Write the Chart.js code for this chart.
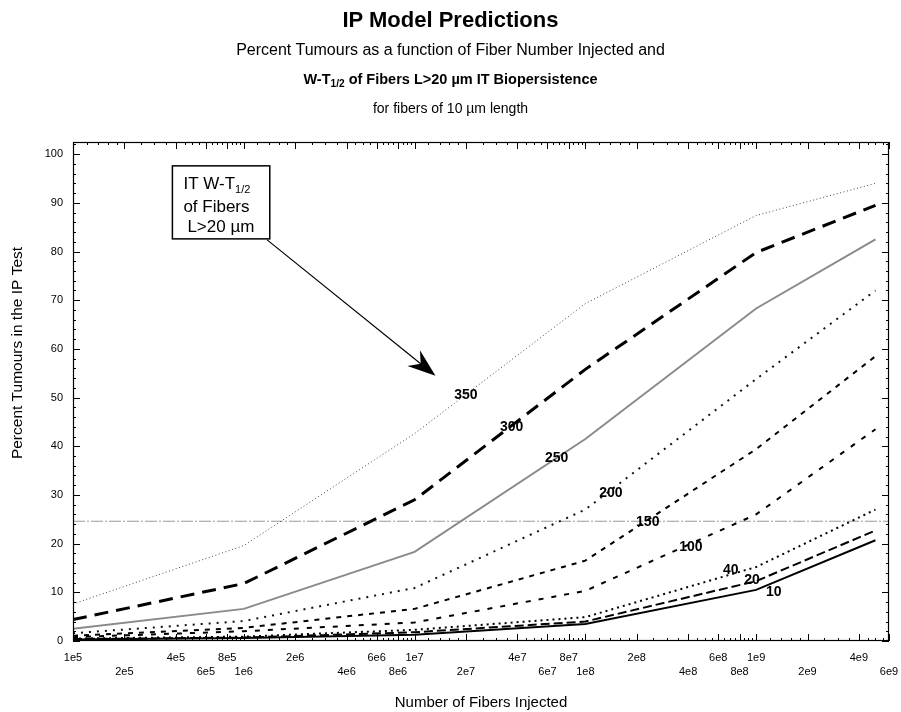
<!DOCTYPE html>
<html>
<head>
<meta charset="utf-8">
<script src="https://cdn.jsdelivr.net/npm/chart.js@4.4.1/dist/chart.umd.min.js"></script>
<style>
  html, body { margin: 0; padding: 0; background: #fff; }
  #wrap { position: relative; width: 901px; height: 712px; font-family: "Liberation Sans", Arial, sans-serif; color: #000; }
  #chart { position: absolute; left: 0; top: 0; width: 901px; height: 712px; }
  .hd { position: absolute; left: 0; width: 901px; text-align: center; white-space: nowrap; line-height: 1; }
  .hd sub { font-size: 0.7em; vertical-align: -0.3em; }
</style>
</head>
<body>
<div id="wrap">
  <canvas id="chart" width="901" height="712"></canvas>
  <div class="hd" style="top:9px;font-size:22px;font-weight:bold;">IP Model Predictions</div>
  <div class="hd" style="top:42px;font-size:16px;">Percent Tumours as a function of Fiber Number Injected and</div>
  <div class="hd" style="top:72px;font-size:14.5px;font-weight:bold;">W-T<sub>1/2</sub> of Fibers L&gt;20 µm IT Biopersistence</div>
  <div class="hd" style="top:101px;font-size:14px;">for fibers of 10 µm length</div>
</div>
<script>
// fibers injected (x) and percent tumours for each IT W-T1/2 value
const fibers = [1e5, 1e6, 1e7, 1e8, 1e9, 5e9];
const t350 = [7.6, 19.6, 42.6, 69.3, 87.4, 94.0];
const t300 = [4.4, 11.8, 29.0, 55.8, 79.8, 89.5];
const t250 = [2.5, 6.6, 18.3, 41.5, 68.3, 82.5];
const t200 = [1.6, 4.1, 10.9, 27.0, 53.8, 72.0];
const t150 = [1.1, 2.7, 6.6, 16.5, 39.4, 58.5];
const t100 = [0.8, 2.0, 3.8, 10.3, 26.0, 43.5];
const t40 = [0.5, 0.9, 2.3, 4.9, 15.2, 27.0];
const t20 = [0.4, 0.7, 1.8, 4.0, 12.3, 22.7];
const t10 = [0.3, 0.6, 1.3, 3.5, 10.5, 20.7];
const seriesNames = ["350", "300", "250", "200", "150", "100", "40", "20", "10"];
const refLevel = 24.6;

const xTickValues = [1e5, 2e5, 4e5, 6e5, 8e5, 1e6, 2e6, 4e6, 6e6, 8e6, 1e7, 2e7, 4e7, 6e7, 8e7,
  1e8, 2e8, 4e8, 6e8, 8e8, 1e9, 2e9, 4e9, 6e9];
const xTickLabels = ["1e5", "2e5", "4e5", "6e5", "8e5", "1e6", "2e6", "4e6", "6e6", "8e6", "1e7", "2e7",
  "4e7", "6e7", "8e7", "1e8", "2e8", "4e8", "6e8", "8e8", "1e9", "2e9", "4e9", "6e9"];
const yTickValues = [0, 10, 20, 30, 40, 50, 60, 70, 80, 90, 100];

const FONT = '"Liberation Sans", Arial, sans-serif';

const values = [t350, t300, t250, t200, t150, t100, t40, t20, t10];
const styles = [
  {color: "#444", width: 1, dash: [1, 2.5]},
  {color: "#000", width: 3, dash: [14, 8]},
  {color: "#8a8a8a", width: 2, dash: []},
  {color: "#111", width: 2, dash: [2, 6]},
  {color: "#000", width: 2, dash: [5, 6]},
  {color: "#000", width: 2, dash: [5, 8]},
  {color: "#000", width: 2, dash: [2, 4]},
  {color: "#000", width: 2, dash: [9, 4]},
  {color: "#000", width: 2, dash: []}
];

const datasets = values.map((vals, i) => ({
  label: seriesNames[i],
  data: fibers.map((f, j) => ({x: f, y: vals[j]})),
  borderColor: styles[i].color,
  borderWidth: styles[i].width,
  borderDash: styles[i].dash,
  pointRadius: 0,
  tension: 0,
  fill: false
}));
datasets.push({
  label: "ref",
  data: [{x: 1e5, y: refLevel}, {x: 6e9, y: refLevel}],
  borderColor: "#9a9a9a",
  borderWidth: 1,
  borderDash: [12, 2, 2, 2],
  pointRadius: 0
});

// where each curve's number is written, in data units
const labelSpots = [
  {text: "350", x: 2.0e7, y: 50.5},
  {text: "300", x: 3.7e7, y: 43.9},
  {text: "250", x: 6.8e7, y: 37.5},
  {text: "200", x: 1.41e8, y: 30.3},
  {text: "150", x: 2.32e8, y: 24.4},
  {text: "100", x: 4.15e8, y: 19.2},
  {text: "40", x: 7.1e8, y: 14.6},
  {text: "20", x: 9.45e8, y: 12.6},
  {text: "10", x: 1.27e9, y: 10.1}
];

const decor = {
  id: "decor",
  afterDatasetsDraw(chart) {
    const {ctx, chartArea: a, scales: {x, y}} = chart;
    ctx.save();
    ctx.strokeStyle = "#000";
    ctx.fillStyle = "#000";

    // frame
    ctx.lineWidth = 1.2;
    ctx.strokeRect(a.left + 0.5, a.top + 0.5, a.right - a.left - 1, a.bottom - a.top - 1);

    // inward ticks on x (top and bottom)
    ctx.lineWidth = 1;
    const xt = (v, len) => {
      const px = Math.round(x.getPixelForValue(v)) + 0.5;
      ctx.beginPath();
      ctx.moveTo(px, a.bottom); ctx.lineTo(px, a.bottom - len);
      ctx.moveTo(px, a.top); ctx.lineTo(px, a.top + len);
      ctx.stroke();
    };
    xTickValues.forEach(v => xt(v, 7));
    const minor = [1.2, 1.4, 1.6, 1.8, 2.5, 3, 3.5, 4.5, 5, 5.5, 6.5, 7, 7.5, 8.5, 9, 9.5];
    for (let d = 1e5; d <= 1e9; d *= 10) {
      minor.forEach(m => { if (m * d < 6e9) xt(m * d, 3); });
    }

    // inward ticks on y (left and right)
    for (let v = 0; v <= 102; v += 2) {
      const py = Math.round(y.getPixelForValue(v)) + 0.5;
      const len = v % 10 === 0 ? 7 : 3;
      ctx.beginPath();
      ctx.moveTo(a.left, py); ctx.lineTo(a.left + len, py);
      ctx.moveTo(a.right, py); ctx.lineTo(a.right - len, py);
      ctx.stroke();
    }

    // y axis title (sits a little above the plot centre, as in the original)
    ctx.save();
    ctx.translate(18, 353);
    ctx.rotate(-Math.PI / 2);
    ctx.font = "15.5px " + FONT;
    ctx.textAlign = "center";
    ctx.textBaseline = "middle";
    ctx.fillText("Percent Tumours in the IP Test", 0, 0);
    ctx.restore();

    // curve numbers
    ctx.font = "bold 14px " + FONT;
    ctx.textAlign = "center";
    ctx.textBaseline = "middle";
    labelSpots.forEach(s => ctx.fillText(s.text, x.getPixelForValue(s.x), y.getPixelForValue(s.y)));

    // annotation box
    const bx0 = x.getPixelForValue(3.82e5), bx1 = x.getPixelForValue(1.42e6);
    const by0 = y.getPixelForValue(97.6), by1 = y.getPixelForValue(82.6);
    ctx.lineWidth = 1.5;
    ctx.strokeRect(bx0, by0, bx1 - bx0, by1 - by0);
    ctx.textAlign = "left";
    ctx.textBaseline = "alphabetic";
    ctx.font = "17px " + FONT;
    const tx = bx0 + 11;
    ctx.fillText("IT W-T", tx, by0 + 23);
    const w = ctx.measureText("IT W-T").width;
    ctx.font = "11px " + FONT;
    ctx.fillText("1/2", tx + w, by0 + 27);
    ctx.font = "17px " + FONT;
    ctx.fillText("of Fibers", tx, by0 + 46);
    ctx.fillText("L>20 µm", tx + 4, by0 + 66);

    // arrow
    const x0 = x.getPixelForValue(1.37e6), y0 = y.getPixelForValue(82.4);
    const x1 = x.getPixelForValue(1.326e7), y1 = y.getPixelForValue(54.5);
    const ang = Math.atan2(y1 - y0, x1 - x0), c = Math.cos(ang), s = Math.sin(ang);
    const L = 28, W = 10, N = 19;
    ctx.lineWidth = 1.2;
    ctx.beginPath();
    ctx.moveTo(x0, y0);
    ctx.lineTo(x1 - N * c, y1 - N * s);
    ctx.stroke();
    ctx.beginPath();
    ctx.moveTo(x1, y1);
    ctx.lineTo(x1 - L * c + W * s, y1 - L * s - W * c);
    ctx.lineTo(x1 - N * c, y1 - N * s);
    ctx.lineTo(x1 - L * c - W * s, y1 - L * s + W * c);
    ctx.closePath();
    ctx.fill();

    ctx.restore();
  }
};

new Chart(document.getElementById("chart"), {
  type: "line",
  data: {datasets},
  options: {
    responsive: false,
    animation: false,
    events: [],
    layout: {padding: {top: 142, right: 12, left: 0, bottom: 0}},
    plugins: {legend: {display: false}, tooltip: {enabled: false}},
    scales: {
      x: {
        type: "logarithmic",
        min: 1e5,
        max: 6e9,
        grid: {display: false},
        border: {display: false},
        afterBuildTicks: s => { s.ticks = xTickValues.map(v => ({value: v})); },
        ticks: {
          autoSkip: false, maxRotation: 0, minRotation: 0, padding: 2, color: "#000",
          font: {family: FONT, size: 11, lineHeight: 1.3},
          callback: (v, i) => i % 2 === 0 ? [xTickLabels[i], ""] : ["", xTickLabels[i]]
        },
        title: {display: true, text: "Number of Fibers Injected", color: "#000",
          font: {family: FONT, size: 15}, padding: {top: 0, bottom: 0}},
        afterFit: s => { s.height = 71; }
      },
      y: {
        min: 0,
        max: 102.5,
        grid: {display: false},
        border: {display: false},
        afterBuildTicks: s => { s.ticks = yTickValues.map(v => ({value: v})); },
        ticks: {padding: 2, color: "#000", font: {family: FONT, size: 11}},
        afterFit: s => { s.width = 73; }
      }
    }
  },
  plugins: [decor]
});
</script>
</body>
</html>
